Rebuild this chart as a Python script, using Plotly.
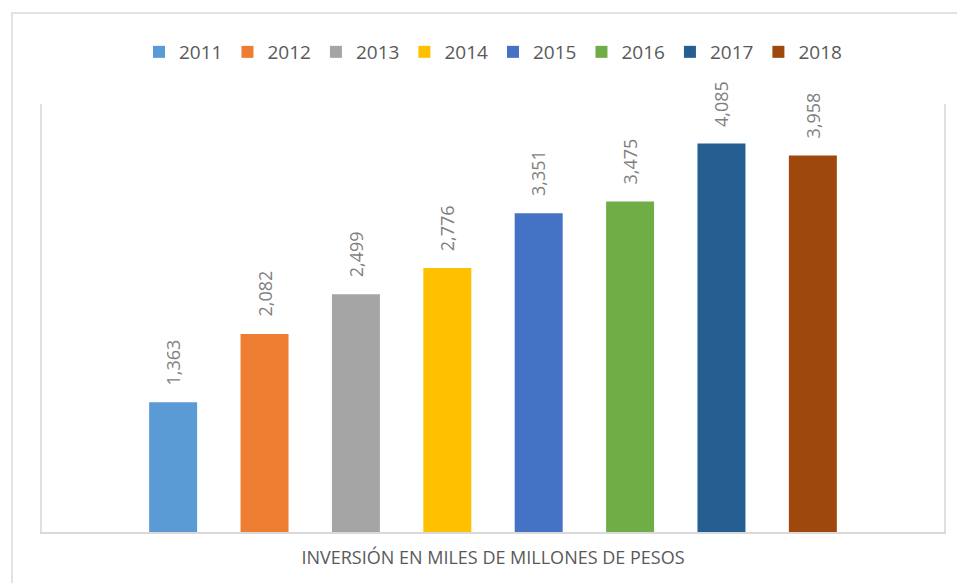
import plotly.graph_objects as go

years = ["2011", "2012", "2013", "2014", "2015", "2016", "2017", "2018"]
inversion = [1363, 2082, 2499, 2776, 3351, 3475, 4085, 3958]
colors = ["#5B9BD5", "#ED7D31", "#A5A5A5", "#FFC000",
          "#4472C4", "#70AD47", "#255E91", "#9E480E"]
axis_title = "INVERSIÓN EN MILES DE MILLONES DE PESOS"

fig = go.Figure()
for i, (year, val, col) in enumerate(zip(years, inversion, colors)):
    fig.add_trace(go.Bar(
        x=[year],
        y=[val],
        name=year,
        marker=dict(color=col, line=dict(width=0)),
    ))
    # value label, rotated, sitting a bit above the bar
    # (category index used for x so "2011" isn't read as a number)
    fig.add_annotation(
        x=i, y=val,
        text=f"{val:,}",
        textangle=-90,
        showarrow=False,
        yanchor="bottom",
        yshift=15,
        font=dict(size=18, color="#7f7f7f"),
    )

# outer chart frame
fig.add_shape(type="rect", xref="paper", yref="paper",
              x0=-30 / 902, x1=1.05, y0=-0.2, y1=(532 - 13) / 428,
              line=dict(color="#e3e3e3", width=2), layer="below")

fig.update_layout(
    width=965,
    height=583,
    margin=dict(l=34, r=29, t=96, b=59),
    paper_bgcolor="white",
    plot_bgcolor="white",
    font=dict(family="Open Sans", color="#595959"),
    barmode="overlay",
    bargap=0.475,
    showlegend=True,
    legend=dict(
        orientation="h",
        x=0.5, xanchor="center",
        y=(532 - 52) / 428, yanchor="middle",
        font=dict(size=19, color="#595959"),
        itemclick=False,
    ),
    xaxis=dict(
        type="category",
        categoryorder="array",
        categoryarray=years,
        range=[-1.435, 8.435],
        showticklabels=False,
        ticks="",
        showgrid=False,
        showline=True,
        linecolor="#d9d9d9",
        linewidth=2,
        title=dict(text=axis_title, standoff=18,
                   font=dict(size=18, color="#595959")),
    ),
    yaxis=dict(
        range=[0, 4500],
        showticklabels=False,
        ticks="",
        showgrid=False,
        zeroline=False,
        showline=True,
        mirror=True,
        linecolor="#e0e0e0",
        linewidth=2,
    ),
)

fig.write_html("out.html")
